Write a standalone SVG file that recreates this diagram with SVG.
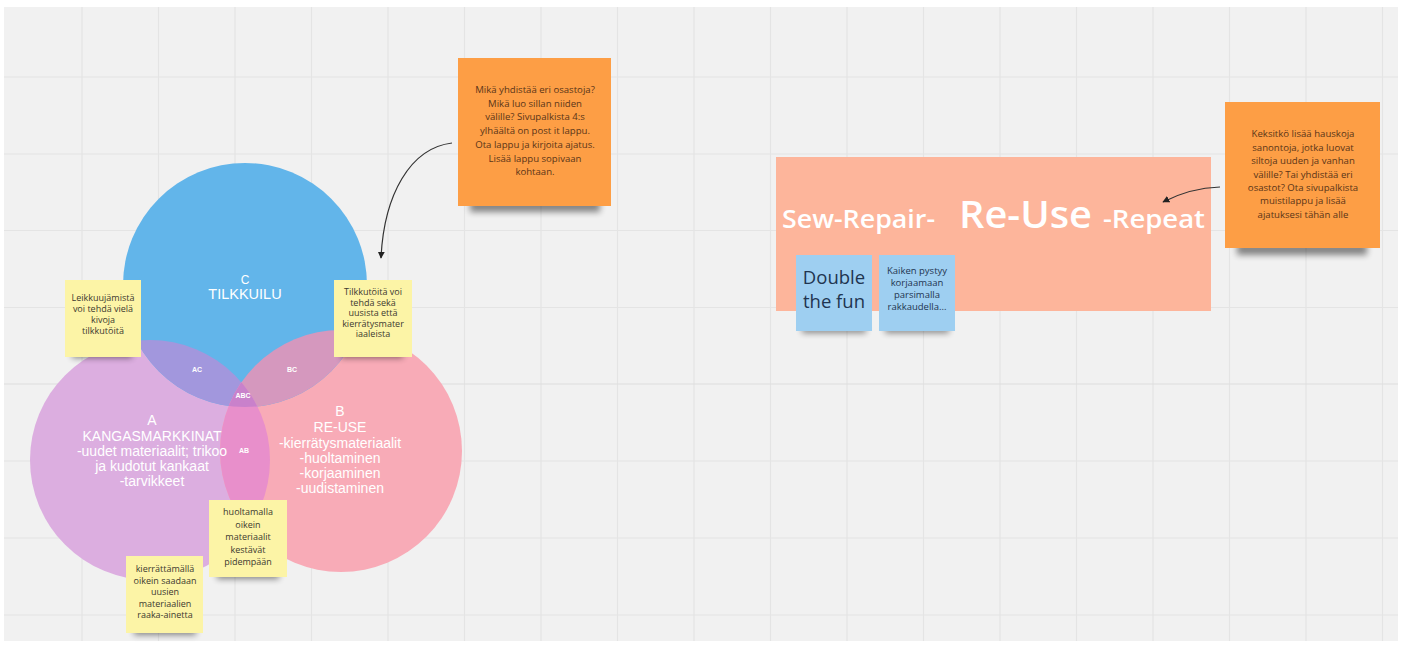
<svg xmlns="http://www.w3.org/2000/svg" width="1402" height="646" viewBox="0 0 1402 646">
<style>
.grid{stroke:#e4e4e4;stroke-width:1.2}
.vl{font-family:"Liberation Sans",Arial,sans-serif;fill:#ffffff;text-anchor:middle}
.tiny{font-family:"Liberation Sans",Arial,sans-serif;font-weight:bold;font-size:7px;fill:#ffffff;text-anchor:middle}
.yel{fill:#fcf4a6}
.org{fill:#fd9e45}
.blu{fill:#9ecff1}
.nt{font-family:"Open Sans","Liberation Sans",sans-serif;font-size:9px;fill:#3c3a30;text-anchor:middle}
.ot{font-family:"Open Sans","Liberation Sans",sans-serif;font-size:9.6px;fill:#5a3518;text-anchor:middle}
.bt{font-family:"Open Sans","Liberation Sans",sans-serif;fill:#1f3550;text-anchor:middle}
.tt{font-family:"Open Sans","Liberation Sans",sans-serif;font-weight:600;fill:#ffffff}
.sh{fill:#000;opacity:0.45;filter:url(#blur)}
.conn{fill:none;stroke:#333;stroke-width:1.2}
</style>
<defs>
<filter id="blur" x="-20%" y="-100%" width="140%" height="300%"><feGaussianBlur stdDeviation="3"/></filter>
<clipPath id="clipA"><circle cx="150" cy="460" r="120"/></clipPath>
<clipPath id="clipB"><circle cx="341" cy="451" r="121"/></clipPath>
<marker id="arr" viewBox="0 0 10 10" refX="9" refY="5" markerWidth="7" markerHeight="7" orient="auto" markerUnits="userSpaceOnUse">
<path d="M0,0 L10,5 L0,10 z" fill="#222"/>
</marker>
</defs>
<rect width="1402" height="646" fill="#ffffff"/>
<rect x="4" y="7" width="1394" height="634" fill="#f1f1f1"/>
<g id="grid">
<line class="grid" x1="82" y1="7" x2="82" y2="641"/>
<line class="grid" x1="158.5" y1="7" x2="158.5" y2="641"/>
<line class="grid" x1="235" y1="7" x2="235" y2="641"/>
<line class="grid" x1="311.5" y1="7" x2="311.5" y2="641"/>
<line class="grid" x1="388" y1="7" x2="388" y2="641"/>
<line class="grid" x1="464.5" y1="7" x2="464.5" y2="641"/>
<line class="grid" x1="541" y1="7" x2="541" y2="641"/>
<line class="grid" x1="617.5" y1="7" x2="617.5" y2="641"/>
<line class="grid" x1="694" y1="7" x2="694" y2="641"/>
<line class="grid" x1="770.5" y1="7" x2="770.5" y2="641"/>
<line class="grid" x1="847" y1="7" x2="847" y2="641"/>
<line class="grid" x1="923.5" y1="7" x2="923.5" y2="641"/>
<line class="grid" x1="1000" y1="7" x2="1000" y2="641"/>
<line class="grid" x1="1076.5" y1="7" x2="1076.5" y2="641"/>
<line class="grid" x1="1153" y1="7" x2="1153" y2="641"/>
<line class="grid" x1="1229.5" y1="7" x2="1229.5" y2="641"/>
<line class="grid" x1="1306" y1="7" x2="1306" y2="641"/>
<line class="grid" x1="1382.5" y1="7" x2="1382.5" y2="641"/>
<line class="grid" x1="4" y1="77" x2="1398" y2="77"/>
<line class="grid" x1="4" y1="154" x2="1398" y2="154"/>
<line class="grid" x1="4" y1="230.5" x2="1398" y2="230.5"/>
<line class="grid" x1="4" y1="307.5" x2="1398" y2="307.5"/>
<line class="grid" x1="4" y1="384" x2="1398" y2="384" style="stroke:#dedede"/>
<line class="grid" x1="4" y1="461" x2="1398" y2="461"/>
<line class="grid" x1="4" y1="538" x2="1398" y2="538"/>
<line class="grid" x1="4" y1="615" x2="1398" y2="615"/>
</g>
<g id="venn">
<circle id="circle-A" cx="150" cy="460" r="120" fill="#dcaee0"/>
<circle id="circle-B" cx="341" cy="451" r="121" fill="#f8abb7"/>
<circle id="circle-C" cx="245" cy="285" r="122" fill="#62b5ea"/>
<g clip-path="url(#clipA)"><circle cx="245" cy="285" r="122" fill="#a297dd"/></g>
<g clip-path="url(#clipB)"><circle cx="245" cy="285" r="122" fill="#d598be"/></g>
<g clip-path="url(#clipA)"><circle cx="341" cy="451" r="121" fill="#e88fcb"/></g>
<g clip-path="url(#clipA)"><g clip-path="url(#clipB)"><circle cx="245" cy="285" r="122" fill="#c981cb"/></g></g>
</g>
<g id="label-C">
<text class="vl" x="245" y="284" font-size="12">C</text>
<text class="vl" x="245" y="299" font-size="14.5">TILKKUILU</text>
</g>
<g id="label-A">
<text class="vl" x="152" y="425" font-size="14">A</text>
<text class="vl" x="152" y="441" font-size="14">KANGASMARKKINAT</text>
<text class="vl" x="152" y="456" font-size="14">-uudet materiaalit; trikoo</text>
<text class="vl" x="152" y="471" font-size="14">ja kudotut kankaat</text>
<text class="vl" x="152" y="486" font-size="14">-tarvikkeet</text>
</g>
<g id="label-B">
<text class="vl" x="340" y="416" font-size="14">B</text>
<text class="vl" x="340" y="432" font-size="14">RE-USE</text>
<text class="vl" x="340" y="448" font-size="14">-kierrätysmateriaalit</text>
<text class="vl" x="340" y="463" font-size="14">-huoltaminen</text>
<text class="vl" x="340" y="478" font-size="14">-korjaaminen</text>
<text class="vl" x="340" y="493" font-size="14">-uudistaminen</text>
</g>
<g id="label-AC"><text class="tiny" x="197" y="372">AC</text></g>
<g id="label-BC"><text class="tiny" x="292" y="372">BC</text></g>
<g id="label-ABC"><text class="tiny" x="243" y="398">ABC</text></g>
<g id="label-AB"><text class="tiny" x="244" y="453">AB</text></g>

<g id="note-leikkuu">
<rect class="sh" x="72" y="350" width="60" height="8"/>
<rect class="yel" x="65" y="280" width="76" height="77"/>
<text class="nt" x="103" y="301">Leikkuujämistä</text>
<text class="nt" x="103" y="312">voi tehdä vielä</text>
<text class="nt" x="103" y="323">kivoja</text>
<text class="nt" x="103" y="334">tilkkutöitä</text>
</g>
<g id="note-tilkkutoita">
<rect class="sh" x="341" y="350" width="62" height="8"/>
<rect class="yel" x="334" y="280" width="78" height="77"/>
<text class="nt" x="373" y="295">Tilkkutöitä voi</text>
<text class="nt" x="373" y="305.5">tehdä sekä</text>
<text class="nt" x="373" y="316">uusista että</text>
<text class="nt" x="373" y="326.5">kierrätysmater</text>
<text class="nt" x="373" y="337">iaaleista</text>
</g>
<g id="note-huoltamalla">
<rect class="sh" x="217" y="570" width="62" height="9"/>
<rect class="yel" x="209" y="500" width="78" height="77"/>
<text class="nt" x="248" y="515">huoltamalla</text>
<text class="nt" x="248" y="527.5">oikein</text>
<text class="nt" x="248" y="540">materiaalit</text>
<text class="nt" x="248" y="552.5">kestävät</text>
<text class="nt" x="248" y="565">pidempään</text>
</g>
<g id="note-kierrattamalla">
<rect class="sh" x="134" y="626" width="62" height="9"/>
<rect class="yel" x="126" y="556" width="77" height="77"/>
<text class="nt" x="165" y="572">kierrättämällä</text>
<text class="nt" x="165" y="583.5">oikein saadaan</text>
<text class="nt" x="165" y="595">uusien</text>
<text class="nt" x="165" y="606.5">materiaalien</text>
<text class="nt" x="165" y="618">raaka-ainetta</text>
</g>

<g id="note-orange-1">
<rect class="sh" x="470" y="200" width="130" height="12"/>
<rect class="org" x="458" y="58" width="153" height="148"/>
<text class="ot" x="535" y="93">Mikä yhdistää eri osastoja?</text>
<text class="ot" x="535" y="106.5">Mikä luo sillan niiden</text>
<text class="ot" x="535" y="120">välille? Sivupalkista 4:s</text>
<text class="ot" x="535" y="134">ylhäältä on post it lappu.</text>
<text class="ot" x="535" y="148">Ota lappu ja kirjoita ajatus.</text>
<text class="ot" x="535" y="162">Lisää lappu sopivaan</text>
<text class="ot" x="535" y="175">kohtaan.</text>
</g>

<g id="title-box">
<rect x="776" y="157" width="435" height="154" fill="#fdb59b"/>
<text class="tt" x="782" y="228" font-size="25" textLength="153" lengthAdjust="spacingAndGlyphs">Sew-Repair-</text>
<text class="tt" x="959" y="228" font-size="37" textLength="133" lengthAdjust="spacingAndGlyphs">Re-Use</text>
<text class="tt" x="1103" y="228" font-size="25" textLength="102" lengthAdjust="spacingAndGlyphs">-Repeat</text>
</g>
<g id="note-double">
<rect class="sh" x="802" y="326" width="64" height="7"/>
<rect class="blu" x="796" y="255" width="76" height="76"/>
<text class="bt" x="834" y="284" font-size="18.5">Double</text>
<text class="bt" x="834" y="308" font-size="18.5">the fun</text>
</g>
<g id="note-kaiken">
<rect class="sh" x="885" y="326" width="64" height="7"/>
<rect class="blu" x="879" y="255" width="76" height="76"/>
<text class="nt" x="917" y="274" style="fill:#1f3550;font-size:9.5px">Kaiken pystyy</text>
<text class="nt" x="917" y="286" style="fill:#1f3550;font-size:9.5px">korjaamaan</text>
<text class="nt" x="917" y="298" style="fill:#1f3550;font-size:9.5px">parsimalla</text>
<text class="nt" x="917" y="310" style="fill:#1f3550;font-size:9.5px">rakkaudella...</text>
</g>

<g id="note-orange-2">
<rect class="sh" x="1237" y="243" width="130" height="12"/>
<rect class="org" x="1225" y="102" width="155" height="146"/>
<text class="ot" x="1303" y="137">Keksitkö lisää hauskoja</text>
<text class="ot" x="1303" y="151">sanontoja, jotka luovat</text>
<text class="ot" x="1303" y="164">siltoja uuden ja vanhan</text>
<text class="ot" x="1303" y="178">välille? Tai yhdistää eri</text>
<text class="ot" x="1303" y="191">osastot? Ota sivupalkista</text>
<text class="ot" x="1303" y="204">muistilappu ja lisää</text>
<text class="ot" x="1303" y="218">ajatuksesi tähän alle</text>
</g>

<g id="connectors">
<path class="conn" d="M452,143 C410,148 384,195 381,258" marker-end="url(#arr)"/>
<path class="conn" d="M1220,187 Q1190,188 1163,202" marker-end="url(#arr)"/>
</g>
</svg>
